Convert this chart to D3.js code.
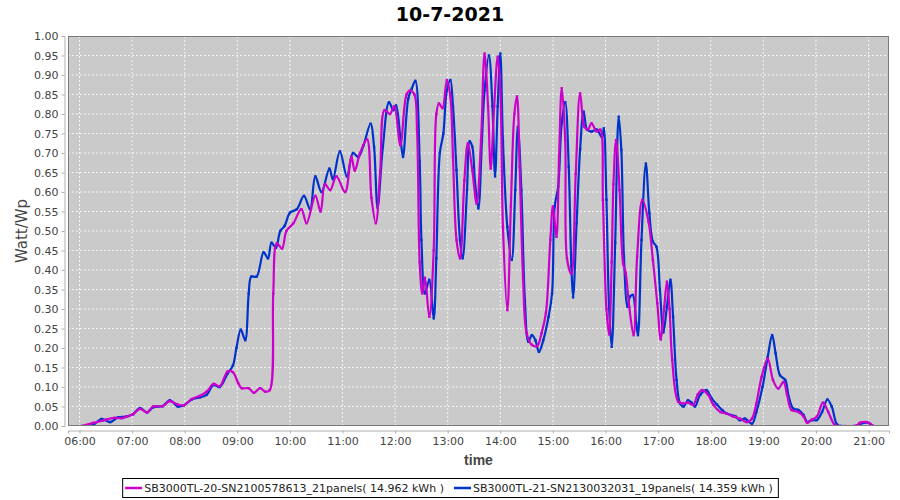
<!DOCTYPE html>
<html><head><meta charset="utf-8">
<script src="https://cdn.jsdelivr.net/npm/d3@7"></script>
<style>body{margin:0;background:#fff}svg{display:block}</style>
</head><body><svg id="chart" width="900" height="500"></svg>
<script>
const chartTitle = "10-7-2021";
const xAxisLabel = "time";
const yAxisLabel = "Watt/Wp";
const seriesNames = ["SB3000TL-20-SN2100578613_21panels( 14.962 kWh )", "SB3000TL-21-SN2130032031_19panels( 14.359 kWh )"];
const seriesColors = ["#cc00cc", "#0033cc"];
const xTickLabels = ["06:00","07:00","08:00","09:00","10:00","11:00","12:00","13:00","14:00","15:00","16:00","17:00","18:00","19:00","20:00","21:00"];
const yTickValues = [0,0.05,0.10,0.15,0.20,0.25,0.30,0.35,0.40,0.45,0.50,0.55,0.60,0.65,0.70,0.75,0.80,0.85,0.90,0.95,1.00];
const xDomainMinutes = [346.9, 1283.3];

const magentaTimes = ["06:03","06:16","06:27","06:31","06:40","06:48","06:55","07:01","07:09","07:17","07:24","07:35","07:43","07:52","07:59","08:08","08:17","08:25","08:33","08:40","08:49","08:55","09:01","09:05","09:13","09:19","09:26","09:32","09:37","09:41","09:45","09:51","09:56","10:04","10:13","10:19","10:29","10:35","10:40","10:46","10:53","11:03","11:10","11:14","11:20","11:28","11:33","11:38","11:43","11:48","11:54","11:59","12:06","12:13","12:17","12:22","12:25","12:28","12:31","12:34","12:39","12:44","12:47","12:50","12:54","12:59","13:03","13:06","13:10","13:14","13:19","13:23","13:28","13:33","13:38","13:42","13:46","13:49","13:53","13:57","14:00","14:03","14:08","14:12","14:16","14:19","14:22","14:26","14:30","14:36","14:42","14:47","14:52","14:57","15:00","15:04","15:07","15:10","15:14","15:16","15:21","15:26","15:31","15:36","15:40","15:44","15:50","15:54","15:57","16:01","16:04","16:07","16:09","16:12","16:16","16:20","16:23","16:27","16:32","16:36","16:42","16:49","16:54","16:59","17:03","17:07","17:10","17:13","17:16","17:23","17:29","17:34","17:40","17:45","17:50","17:57","18:03","18:11","18:18","18:26","18:33","18:41","18:47","18:52","18:58","19:05","19:11","19:17","19:23","19:27","19:32","19:40","19:46","19:50","19:55","20:01","20:08","20:14","20:22","20:33","20:47","20:50","20:58","21:05"];
const magentaValues = [0,0.008,0.014,0.017,0.021,0.02,0.025,0.03,0.044,0.035,0.05,0.051,0.064,0.055,0.053,0.069,0.077,0.088,0.108,0.102,0.14,0.138,0.11,0.097,0.097,0.085,0.097,0.088,0.092,0.34,0.468,0.455,0.50,0.52,0.556,0.52,0.59,0.55,0.62,0.605,0.64,0.60,0.69,0.655,0.70,0.735,0.585,0.52,0.655,0.81,0.80,0.82,0.72,0.85,0.86,0.85,0.76,0.42,0.34,0.38,0.28,0.45,0.80,0.827,0.815,0.887,0.845,0.69,0.477,0.43,0.63,0.725,0.656,0.57,0.733,0.955,0.82,0.66,0.82,0.947,0.86,0.51,0.297,0.563,0.80,0.845,0.665,0.375,0.238,0.208,0.205,0.238,0.29,0.477,0.563,0.485,0.69,0.866,0.733,0.43,0.39,0.647,0.853,0.767,0.76,0.776,0.755,0.76,0.58,0.30,0.235,0.42,0.62,0.733,0.605,0.417,0.392,0.306,0.233,0.434,0.58,0.524,0.426,0.315,0.222,0.306,0.37,0.30,0.17,0.062,0.058,0.06,0.054,0.08,0.092,0.08,0.054,0.036,0.032,0.024,0.019,0.01,0.019,0.058,0.126,0.173,0.118,0.096,0.113,0.08,0.041,0.036,0.024,0.008,0.016,0.024,0.06,0.036,0.002,0,0.002,0.008,0.01,0];

const blueTimes = ["06:03","06:15","06:25","06:35","06:44","06:53","07:01","07:09","07:17","07:24","07:35","07:43","07:52","07:59","08:08","08:17","08:25","08:33","08:40","08:49","08:55","08:59","09:04","09:09","09:13","09:16","09:22","09:30","09:35","09:39","09:44","09:49","09:54","10:00","10:08","10:16","10:23","10:29","10:36","10:45","10:49","10:57","11:05","11:12","11:18","11:24","11:32","11:36","11:40","11:46","11:53","11:58","12:01","12:06","12:09","12:15","12:19","12:23","12:28","12:30","12:34","12:39","12:44","12:47","12:51","12:55","12:59","13:03","13:06","13:10","13:14","13:17","13:22","13:25","13:28","13:31","13:35","13:39","13:42","13:47","13:51","13:54","13:57","14:00","14:03","14:08","14:13","14:17","14:20","14:24","14:28","14:32","14:36","14:40","14:44","14:49","14:55","14:59","15:02","15:06","15:10","15:14","15:18","15:21","15:23","15:27","15:31","15:35","15:39","15:44","15:50","15:56","15:58","16:01","16:04","16:07","16:11","16:15","16:18","16:21","16:25","16:28","16:31","16:35","16:37","16:41","16:46","16:50","16:54","16:58","17:02","17:06","17:10","17:14","17:17","17:21","17:25","17:29","17:34","17:38","17:42","17:48","17:55","18:01","18:07","18:13","18:18","18:28","18:33","18:39","18:47","18:52","18:59","19:05","19:10","19:14","19:19","19:25","19:29","19:34","19:40","19:46","19:50","19:55","20:01","20:07","20:13","20:18","20:24","20:29","20:45","20:54","21:00","21:05"];
const blueValues = [0,0.002,0.018,0.01,0.022,0.024,0.03,0.046,0.035,0.048,0.051,0.066,0.05,0.053,0.068,0.073,0.08,0.105,0.10,0.135,0.155,0.20,0.247,0.22,0.34,0.383,0.383,0.445,0.43,0.47,0.457,0.50,0.513,0.547,0.556,0.59,0.556,0.64,0.60,0.66,0.633,0.704,0.64,0.70,0.69,0.72,0.775,0.715,0.56,0.715,0.83,0.81,0.822,0.74,0.69,0.84,0.865,0.885,0.68,0.477,0.34,0.375,0.276,0.43,0.70,0.75,0.86,0.887,0.82,0.656,0.477,0.43,0.605,0.73,0.716,0.63,0.558,0.73,0.86,0.95,0.82,0.64,0.82,0.955,0.73,0.51,0.426,0.605,0.767,0.605,0.323,0.216,0.233,0.22,0.19,0.22,0.28,0.34,0.563,0.614,0.776,0.83,0.665,0.41,0.33,0.52,0.71,0.806,0.76,0.755,0.76,0.74,0.763,0.58,0.306,0.203,0.47,0.793,0.708,0.434,0.306,0.332,0.336,0.263,0.233,0.477,0.673,0.545,0.473,0.46,0.35,0.24,0.306,0.375,0.28,0.118,0.058,0.05,0.066,0.06,0.05,0.08,0.092,0.071,0.055,0.041,0.032,0.025,0.015,0.019,0.006,0.036,0.10,0.177,0.233,0.186,0.13,0.118,0.075,0.045,0.041,0.028,0.01,0.015,0.015,0.036,0.068,0.05,0.004,0,0,0.008,0.008,0];

const toMin = s => { const p = s.split(":").map(Number); return p[0]*60 + p[1]; };
const series = [
  magentaTimes.map((t,i)=>({t:toMin(t), v:magentaValues[i]})),
  blueTimes.map((t,i)=>({t:toMin(t), v:blueValues[i]}))
];

const svg = d3.select("#chart");
const L = 68, R = 889, T = 36, B = 426;
const x = d3.scaleLinear().domain(xDomainMinutes).range([L, R]);
const y = d3.scaleLinear().domain([0, 1]).range([B, T]);
const font = "'DejaVu Sans', sans-serif";

svg.append("rect").attr("width",900).attr("height",500).attr("fill","#fff");
svg.append("rect").attr("x",L).attr("y",T).attr("width",R-L).attr("height",B-T).attr("fill","#cacaca");

// gridlines
const g = svg.append("g");
yTickValues.forEach(v => {
  g.append("line").attr("x1",L).attr("x2",R).attr("y1",y(v)).attr("y2",y(v))
   .attr("stroke","#fff").attr("stroke-width",0.8).attr("stroke-dasharray","2,2");
});
xTickLabels.forEach(s => {
  g.append("line").attr("x1",x(toMin(s))).attr("x2",x(toMin(s))).attr("y1",T).attr("y2",B)
   .attr("stroke","#fff").attr("stroke-width",0.8).attr("stroke-dasharray","2,2");
});

// lines
svg.append("clipPath").attr("id","clip").append("rect").attr("x",L).attr("y",T).attr("width",R-L).attr("height",B-T);
const line = d3.line().x(d=>x(d.t)).y(d=>y(Math.max(0,d.v))).curve(d3.curveCatmullRom.alpha(0.5));
const lg = svg.append("g").attr("clip-path","url(#clip)");
[1,0].forEach(i => {
  lg.append("path").attr("d", line(series[i])).attr("fill","none")
    .attr("stroke", seriesColors[i]).attr("stroke-width", 2.2).attr("stroke-linejoin","round");
  lg.selectAll(null).data(series[i]).enter().append("rect")
    .attr("x", d=>x(d.t)-1.2).attr("y", d=>y(d.v)-1.2).attr("width",2.4).attr("height",2.4)
    .attr("fill", seriesColors[i]);
});

// outline
svg.append("rect").attr("x",L+0.5).attr("y",T+0.5).attr("width",R-L-1).attr("height",B-T-1)
  .attr("fill","none").attr("stroke","#7a7a7a").attr("stroke-width",1);

// y axis
const yAxis = d3.axisLeft(y).tickValues(yTickValues).tickFormat(d3.format(".2f")).tickSize(3).tickPadding(3);
const ya = svg.append("g").attr("transform",`translate(${L-3.5},0)`).call(yAxis);
// x axis
const xAxis = d3.axisBottom(x).tickValues(xTickLabels.map(toMin)).tickFormat((d,i)=>xTickLabels[i]).tickSize(3).tickPadding(4);
const xa = svg.append("g").attr("transform",`translate(0,${B+4.5})`).call(xAxis);
[ya, xa].forEach(a => {
  a.select(".domain").attr("stroke","#b0b0b0");
  a.selectAll(".tick line").attr("stroke","#b0b0b0");
  a.selectAll(".tick text").attr("fill","#444").style("font-family",font).style("font-size","11px");
});

// title & labels
svg.append("text").attr("x",450).attr("y",21).attr("text-anchor","middle")
  .style("font-family",font).style("font-size","19px").style("font-weight","bold").attr("fill","#000").text(chartTitle);
svg.append("text").attr("x",(L+R)/2).attr("y",465).attr("text-anchor","middle")
  .style("font-family","'Liberation Sans', sans-serif").style("font-size","14px").style("font-weight","bold").attr("fill","#444").text(xAxisLabel);
svg.append("text").attr("transform",`translate(27,${(T+B)/2}) rotate(-90)`).attr("text-anchor","middle")
  .style("font-family",font).style("font-size","15px").attr("fill","#444").text(yAxisLabel);

// legend
const legBox = svg.append("rect").attr("fill","#fff").attr("stroke","#000").attr("stroke-width",1);
const leg = svg.append("g");
let cx = 0;
seriesNames.forEach((n,i) => {
  const it = leg.append("g");
  it.append("line").attr("x1",cx+2).attr("x2",cx+19).attr("y1",0).attr("y2",0).attr("stroke",seriesColors[i]).attr("stroke-width",2.5);
  const tx = it.append("text").attr("x",cx+21).attr("y",4).style("font-family",font).style("font-size","11px").attr("fill","#222").text(n);
  cx += 21 + tx.node().getComputedTextLength() + 8;
});
const lw = cx - 4;
const lx = 450 - lw/2;
leg.attr("transform",`translate(${lx},488)`);
legBox.attr("x",lx-0.5).attr("y",478.5).attr("width",lw+2).attr("height",19);
</script></body></html>
